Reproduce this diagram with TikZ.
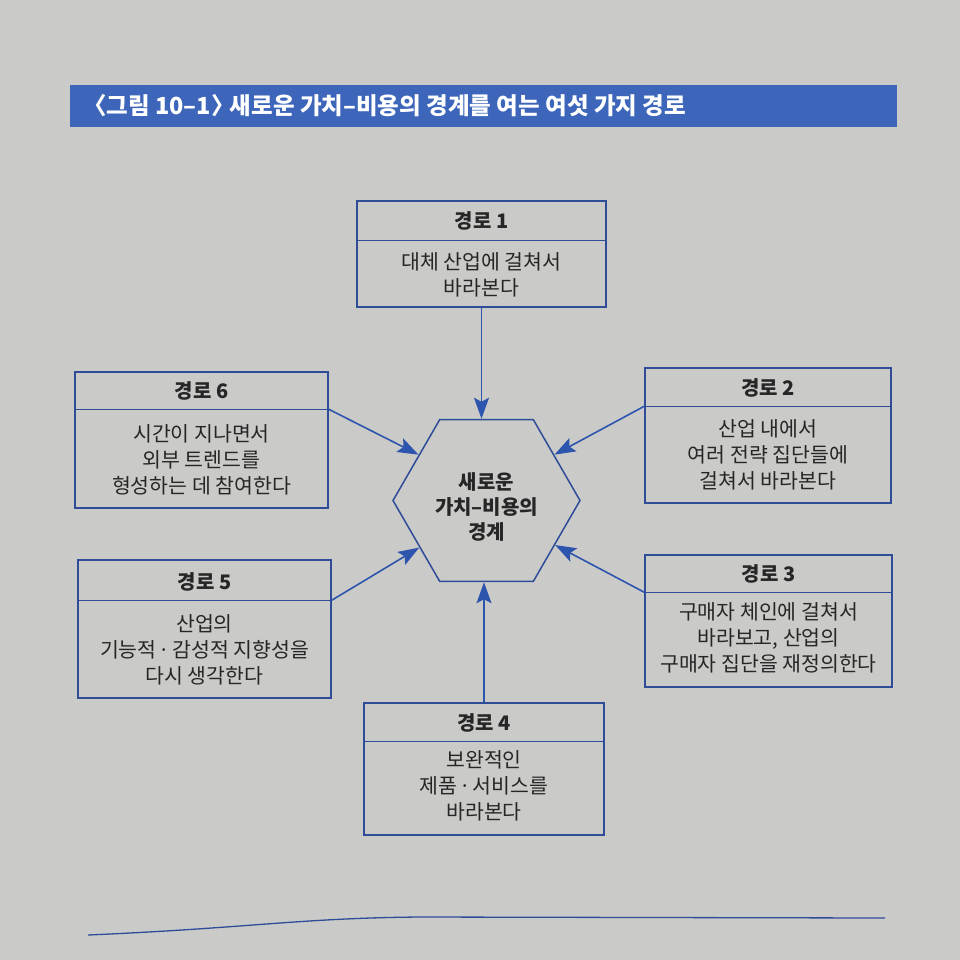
\documentclass[tikz,border=0pt]{standalone}
\usepackage{fontspec}
\setmainfont{Noto Sans CJK KR}
\usetikzlibrary{arrows.meta,shapes.geometric,calc}
\definecolor{paper}{HTML}{CACAC8}
\definecolor{bar}{HTML}{3D66BA}
\definecolor{lineblue}{HTML}{2F4C98}
\definecolor{arrowblue}{HTML}{2E55AE}
\definecolor{ink}{HTML}{262626}
\newcommand{\mdot}{\kern0.1em·\kern0.1em}
\begin{document}
\begin{tikzpicture}[x=1pt,y=-1pt,
  box/.style={draw=lineblue, line width=1.5pt, inner sep=0pt},
  divline/.style={draw=lineblue, line width=1.5pt},
  ttl/.style={font=\bfseries\fontsize{20}{24}\selectfont, text=ink, inner sep=0pt},
  body/.style={font=\fontsize{20.5}{26}\selectfont, text=ink, align=center, inner sep=0pt},
  conn/.style={draw=arrowblue, line width=1.6pt, -{Stealth[length=21pt,width=15pt,inset=4pt]}}]
\fill[paper] (0,0) rectangle (960,960);
\useasboundingbox (0,0) rectangle (960,960);

% title bar
\node[fill=bar, minimum width=827pt, minimum height=42pt, inner sep=0pt] (bar) at (483.5,106) {};
\node[anchor=west, text=white, inner sep=0pt, font=\bfseries\fontsize{23.5}{24}\selectfont] (bartext) at (83,106) {〈그림 10–1〉\kern-0.2em 새로운 가치–비용의 경계를 여는 여섯 가지 경로};

% box 1
\node[box, minimum width=249pt, minimum height=106pt] (b1) at (481.5,254) {};
\draw[divline] ($(b1.north west)+(0,40)$) -- ($(b1.north east)+(0,40)$);
\node[ttl] (t1) at (481.5,221) {경로 1};
\node[body] (x1) at (481.5,274.5) {대체 산업에 걸쳐서\\바라본다};

% box 6
\node[box, minimum width=253pt, minimum height=136pt] (b6) at (201.5,440) {};
\draw[divline] ($(b6.north west)+(0,38)$) -- ($(b6.north east)+(0,38)$) coordinate (b6d);
\node[ttl] (t6) at (201.5,391) {경로 6};
\node[body] (x6) at (201.5,460) {시간이 지나면서\\외부 트렌드를\\형성하는 데 참여한다};

% box 2
\node[box, minimum width=246pt, minimum height=135pt] (b2) at (768,435.5) {};
\draw[divline] ($(b2.north east)+(0,39)$) -- ($(b2.north west)+(0,39)$) coordinate (b2d);
\node[ttl] (t2) at (768,388) {경로 2};
\node[body] (x2) at (768,455) {산업 내에서\\여러 전략 집단들에\\걸쳐서 바라본다};

% box 5
\node[box, minimum width=253pt, minimum height=138pt] (b5) at (204.5,629) {};
\draw[divline] ($(b5.north west)+(0,41)$) -- ($(b5.north east)+(0,41)$) coordinate (b5d);
\node[ttl] (t5) at (204.5,582) {경로 5};
\node[body] (x5) at (204.5,650) {산업의\\기능적\mdot 감성적 지향성을\\다시 생각한다};

% box 3
\node[box, minimum width=247pt, minimum height=132pt] (b3) at (768.5,621) {};
\draw[divline] ($(b3.north east)+(0,38)$) -- ($(b3.north west)+(0,38)$) coordinate (b3d);
\node[ttl] (t3) at (768.5,574) {경로 3};
\node[body] (x3) at (768.5,638) {구매자 체인에 걸쳐서\\바라보고, 산업의\\구매자 집단을 재정의한다};

% box 4
\node[box, minimum width=240pt, minimum height=132pt] (b4) at (484,769) {};
\draw[divline] ($(b4.north west)+(0,39)$) -- ($(b4.north east)+(0,39)$);
\node[ttl] (t4) at (484,723) {경로 4};
\node[body] (x4) at (484,786) {보완적인\\제품\mdot 서비스를\\바라본다};

% hexagon
\node[regular polygon, regular polygon sides=6, minimum size=187pt, inner sep=0pt, draw=lineblue, line width=1.5pt] (hex) at (486.5,500.5) {};
\node[font=\bfseries\fontsize{20}{25}\selectfont, align=center, text=ink, inner sep=0pt] (hext) at (486.5,507) {새로운\\가치–비용의\\경계};

% connectors
\draw[conn] (b1.south) -- (b1.south |- hex.north);
\draw[conn] (b4.north) -- (b4.north |- hex.south);
\draw[conn] (b6d) -- (hex.146);
\draw[conn] (b2d) -- (hex.34);
\draw[conn] (b5d) -- (hex.215);
\draw[conn] (b3d) -- (hex.-33);

% bottom rule
\draw[lineblue, line width=1.3pt] (88,935) .. controls (250,928) and (300,918) .. (420,917) -- (885,918);
\end{tikzpicture}
\end{document}
